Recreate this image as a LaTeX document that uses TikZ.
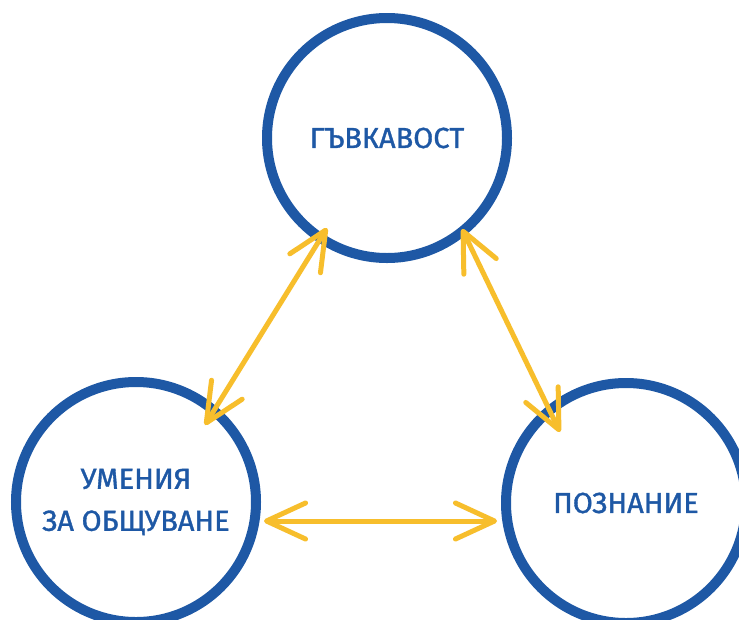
\documentclass[tikz,border=0pt]{standalone}
\usepackage{fontspec}
\setmainfont{Fira Sans}
\newfontface\handfont{Fira Sans}[FakeBold=1.2]
\usetikzlibrary{arrows.meta}
\definecolor{ringblue}{HTML}{1E58A5}
\definecolor{arryellow}{HTML}{F7BE2C}
\begin{document}
\begin{tikzpicture}[x=1pt,y=-1pt,
  ring/.style={circle,draw=ringblue,line width=10pt,minimum size=240pt,inner sep=0pt,
    text=ringblue,font=\handfont\fontsize{29}{42}\selectfont,align=center},
  link/.style={draw=arryellow,line width=5pt,line cap=round,
    {Straight Barb[length=39pt,width=36pt,line width=5pt,round]}-{Straight Barb[length=39pt,width=36pt,line width=5pt,round]}}]
\useasboundingbox[fill=white] (0,0) rectangle (739,619);
\node[ring] (g) at (387,138) {ГЪВКАВОСТ};
\node[ring] (u) at (136,502) {УМЕНИЯ\\ЗА ОБЩУВАНЕ};
\node[ring] (p) at (626,503) {ПОЗНАНИЕ};
\coordinate (g1) at (327,228);
\coordinate (u1) at (205,425);
\coordinate (g2) at (462,229);
\coordinate (p1) at (560,432);
\coordinate (u2) at (264,521);
\coordinate (p2) at (497,521);
\path[link] (g1) -- (u1);
\path[link] (g2) -- (p1);
\path[link] (u2) -- (p2);
\end{tikzpicture}
\end{document}
